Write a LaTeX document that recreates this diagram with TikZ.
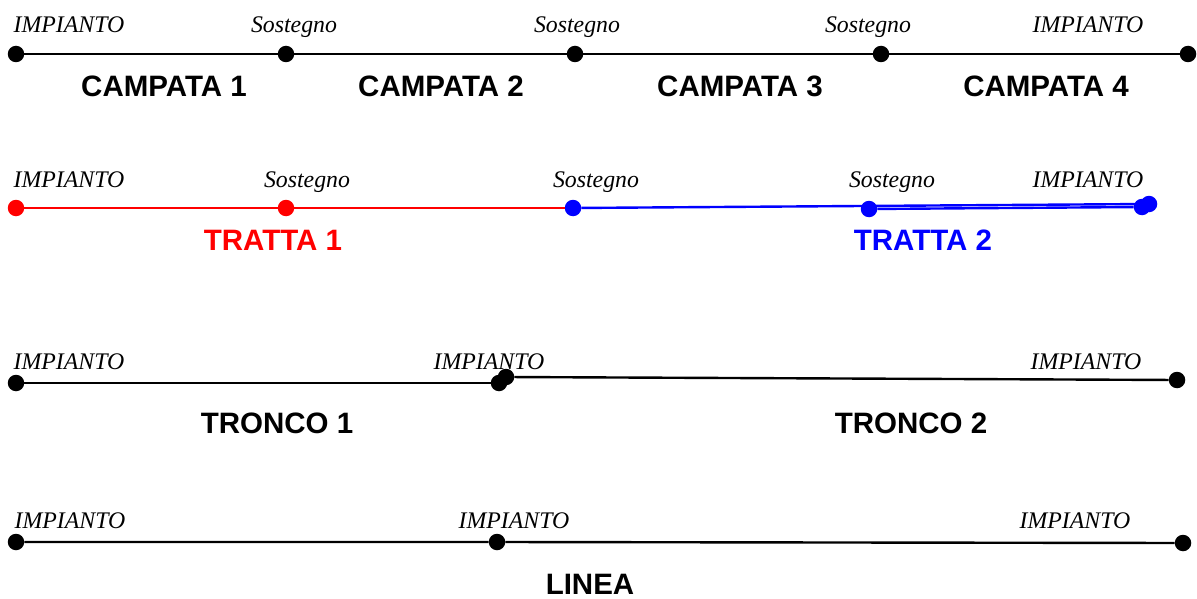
\documentclass[tikz,border=0pt]{standalone}
\usepackage{fontspec}
\setmainfont{Liberation Serif}
\newfontfamily\arialfont{Liberation Sans}
\definecolor{pred}{RGB}{255,0,0}
\definecolor{pblue}{RGB}{0,0,255}
\begin{document}
\begin{tikzpicture}[x=1pt,y=-1pt,
 dot/.style={circle,fill,inner sep=0pt,minimum size=16.5pt},
 lbl/.style={font=\fontsize{23.8}{24}\selectfont\itshape,inner sep=0pt,anchor=base},
 ttl/.style={font=\fontsize{29.5}{30}\selectfont\arialfont\bfseries,inner sep=0pt,anchor=base},
 wire/.style={line width=2.4pt}]
\useasboundingbox (0,0) rectangle (1197,599);
% ---------- Row 1: campate ----------
\node[dot] (r1a) at (16,54) {};
\node[dot] (r1b) at (286,54) {};
\node[dot] (r1c) at (575,54) {};
\node[dot] (r1d) at (881,54) {};
\node[dot] (r1e) at (1188,54) {};
\draw[wire] (r1a) -- (r1b) -- (r1c) -- (r1d) -- (r1e);
\node[lbl] (l1a) at (69,33) {IMPIANTO};
\node[lbl] (l1b) at (294,33) {Sostegno};
\node[lbl] (l1c) at (577,33) {Sostegno};
\node[lbl] (l1d) at (868,33) {Sostegno};
\node[lbl] (l1e) at (1088,33) {IMPIANTO};
\node[ttl] (t1a) at (164,97) {CAMPATA 1};
\node[ttl] (t1b) at (441,97) {CAMPATA 2};
\node[ttl] (t1c) at (740,97) {CAMPATA 3};
\node[ttl] (t1d) at (1046,97) {CAMPATA 4};
% ---------- Row 2: tratte ----------
\node[dot,pred] (r2a) at (16,208) {};
\node[dot,pred] (r2b) at (286,208) {};
\node[dot,pblue] (r2c) at (573,208) {};
\node[dot,pblue] (r2d) at (869,209) {};
\node[dot,pblue] (r2e) at (1142,207) {};
\node[dot,pblue] (r2f) at (1149,204) {};
\draw[wire,pred] (r2a) -- (r2b) -- (r2c);
\draw[wire,pblue] (r2c) -- (r2f);
\draw[wire,pblue] (r2d) -- (r2e);
\node[lbl] (l2a) at (69,187) {IMPIANTO};
\node[lbl] (l2b) at (307,187) {Sostegno};
\node[lbl] (l2c) at (596,187) {Sostegno};
\node[lbl] (l2d) at (892,187) {Sostegno};
\node[lbl] (l2e) at (1088,187) {IMPIANTO};
\node[ttl,pred] (t2a) at (273,250) {TRATTA 1};
\node[ttl,pblue] (t2b) at (923,250) {TRATTA 2};
% ---------- Row 3: tronchi ----------
\node[dot] (r3a) at (16,383) {};
\node[dot] (r3b) at (499,383) {};
\node[dot] (r3c) at (506,377) {};
\node[dot] (r3d) at (1177,380) {};
\draw[wire] (r3a) -- (r3b);
\draw[wire] (r3c) -- (r3d);
\node[lbl] (l3a) at (69,369) {IMPIANTO};
\node[lbl] (l3b) at (489,369) {IMPIANTO};
\node[lbl] (l3c) at (1086,369) {IMPIANTO};
\node[ttl] (t3a) at (277,433) {TRONCO 1};
\node[ttl] (t3b) at (911,433) {TRONCO 2};
% ---------- Row 4: linea ----------
\node[dot] (r4a) at (16,542) {};
\node[dot] (r4b) at (497,542) {};
\node[dot] (r4c) at (1183,543) {};
\draw[wire] (r4a) -- (r4b) -- (r4c);
\node[lbl] (l4a) at (70,528) {IMPIANTO};
\node[lbl] (l4b) at (514,528) {IMPIANTO};
\node[lbl] (l4c) at (1075,528) {IMPIANTO};
\node[ttl] (t4a) at (590,594) {LINEA};
\end{tikzpicture}
\end{document}
